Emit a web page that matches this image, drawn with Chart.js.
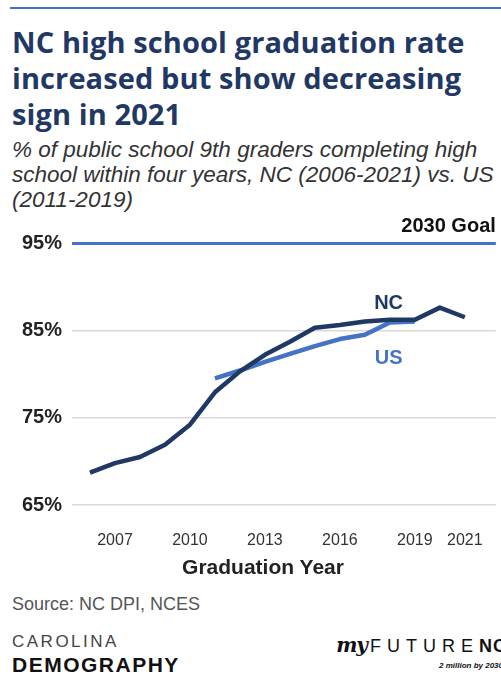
<!DOCTYPE html>
<html>
<head>
<meta charset="utf-8">
<script src="https://cdn.jsdelivr.net/npm/chart.js@4/dist/chart.umd.min.js"></script>
<style>
  html, body { margin: 0; padding: 0; background: #fff; }
  body { width: 501px; height: 679px; position: relative; overflow: hidden; font-family: "Liberation Sans", Arial, sans-serif; }
  .rule { position: absolute; left: 10px; right: 0; top: 7px; height: 2px; background: #4472c4; }
  .title { position: absolute; left: 12px; top: 24px; font-family: "Open Sans", sans-serif; font-weight: 700; font-size: 29px; line-height: 36px; color: #1f3864; white-space: nowrap; letter-spacing: 0.1px; }
  .subtitle { position: absolute; left: 12px; top: 137px; font-style: italic; font-size: 22.5px; line-height: 25px; color: #333; white-space: nowrap; }
  #chartBox { position: absolute; left: 0; top: 210px; width: 501px; height: 380px; }
  .xtitle { position: absolute; left: 0; width: 526px; top: 556px; text-align: center; font-weight: 700; font-size: 21px; color: #222; line-height: 1; }
  .source { position: absolute; left: 12px; top: 595px; font-size: 18px; line-height: 1; color: #555; }
  .carolina { position: absolute; left: 12px; top: 633px; font-size: 17px; line-height: 1; letter-spacing: 2.5px; color: #444; }
  .demog { position: absolute; left: 12px; top: 654px; font-size: 21px; font-weight: 700; line-height: 1; letter-spacing: 1.5px; color: #111; }
  .mfnc { position: absolute; right: -6px; top: 635px; font-size: 18px; line-height: 1; color: #111; white-space: nowrap; }
  .mfnc .my { font-family: "DejaVu Serif", serif; font-style: italic; font-weight: 700; font-size: 20px; letter-spacing: -1px; margin-right: 3px; }
  .mfnc .fut { letter-spacing: 6px; }
  .mfnc .nc { font-weight: 700; letter-spacing: 1px; }
  .tag { position: absolute; right: -2px; top: 662px; font-size: 8px; font-weight: 700; font-style: italic; line-height: 1; color: #111; }
</style>
</head>
<body>
<div class="rule"></div>
<div class="title">NC high school graduation rate<br>increased but show decreasing<br>sign in 2021</div>
<div class="subtitle">% of public school 9th graders completing high<br>school within four years, NC (2006-2021) vs. US<br>(2011-2019)</div>
<div id="chartBox"><canvas id="gradChart"></canvas></div>
<div class="xtitle">Graduation Year</div>
<div class="source">Source: NC DPI, NCES</div>
<div class="carolina">CAROLINA</div>
<div class="demog">DEMOGRAPHY</div>
<div class="mfnc"><span class="my">my</span><span class="fut">FUTURE</span><span class="nc">NC</span></div>
<div class="tag">2 million by 2030</div>

<script>
// Graduation rate data
const ncYears = [2006, 2007, 2008, 2009, 2010, 2011, 2012, 2013, 2014, 2015, 2016, 2017, 2018, 2019, 2020, 2021];
const ncRates = [68.7, 69.8, 70.5, 71.9, 74.2, 77.9, 80.3, 82.2, 83.7, 85.3, 85.6, 86.0, 86.2, 86.2, 87.6, 86.5];

const usYears = [2011, 2012, 2013, 2014, 2015, 2016, 2017, 2018, 2019];
const usRates = [79.5, 80.4, 81.4, 82.3, 83.2, 84.0, 84.5, 85.9, 86.0];

const xTickYears = [2007, 2010, 2013, 2016, 2019, 2021];
const yTickValues = [65, 75, 85, 95];
const goalValue = 95;

const NAVY = "#1f3864";
const LIGHT_BLUE = "#4472c4";

// Labels for series and goal line, placed through the scales
const labelPlugin = {
  id: "seriesLabels",
  afterDatasetsDraw(chart) {
    const { ctx, chartArea, scales } = chart;
    const x = scales.x;
    const y = scales.y;
    ctx.save();
    ctx.font = "bold 20px 'Liberation Sans', Arial, sans-serif";
    ctx.textAlign = "center";
    ctx.textBaseline = "middle";
    ctx.fillStyle = NAVY;
    ctx.fillText("NC", x.getPixelForValue(2017.95), y.getPixelForValue(88.1));
    ctx.fillStyle = LIGHT_BLUE;
    ctx.fillText("US", x.getPixelForValue(2017.95), y.getPixelForValue(81.8));

    ctx.fillStyle = "#111";
    ctx.textAlign = "right";
    ctx.textBaseline = "alphabetic";
    ctx.fillText("2030 Goal", chartArea.right, y.getPixelForValue(goalValue) - 11);
    ctx.restore();
  }
};

const ctx = document.getElementById("gradChart").getContext("2d");

new Chart(ctx, {
  type: "line",
  data: {
    datasets: [
      {
        label: "NC",
        data: ncYears.map((yr, i) => ({ x: yr, y: ncRates[i] })),
        borderColor: NAVY,
        borderWidth: 4.5,
        pointRadius: 0,
        tension: 0,
        borderJoinStyle: "round"
      },
      {
        label: "US",
        data: usYears.map((yr, i) => ({ x: yr, y: usRates[i] })),
        borderColor: LIGHT_BLUE,
        borderWidth: 4.5,
        pointRadius: 0,
        tension: 0,
        borderJoinStyle: "round"
      }
    ]
  },
  options: {
    responsive: true,
    maintainAspectRatio: false,
    animation: false,
    layout: { padding: { top: 33, right: 5, left: 0, bottom: 0 } },
    plugins: {
      legend: { display: false },
      tooltip: { enabled: false }
    },
    scales: {
      x: {
        type: "linear",
        min: 2005.28,
        max: 2022.24,
        afterFit(scale) { scale.height = 85; },
        afterBuildTicks(scale) { scale.ticks = xTickYears.map(v => ({ value: v })); },
        grid: { display: false },
        border: { display: false },
        ticks: {
          padding: 18,
          color: "#333",
          font: { family: "'Liberation Sans', Arial, sans-serif", size: 16 },
          maxRotation: 0,
          callback: v => String(v)
        }
      },
      y: {
        min: 65,
        max: 95,
        afterFit(scale) { scale.width = 72; },
        afterBuildTicks(scale) { scale.ticks = yTickValues.map(v => ({ value: v })); },
        border: { display: false },
        grid: {
          drawTicks: false,
          color: c => c.tick && c.tick.value === goalValue ? LIGHT_BLUE : "#d9d9d9",
          lineWidth: c => c.tick && c.tick.value === goalValue ? 3 : 1.5
        },
        ticks: {
          padding: 10,
          color: "#222",
          font: { family: "'Liberation Sans', Arial, sans-serif", size: 20, weight: "bold" },
          callback: v => v + "%"
        }
      }
    }
  },
  plugins: [labelPlugin]
});
</script>
</body>
</html>
